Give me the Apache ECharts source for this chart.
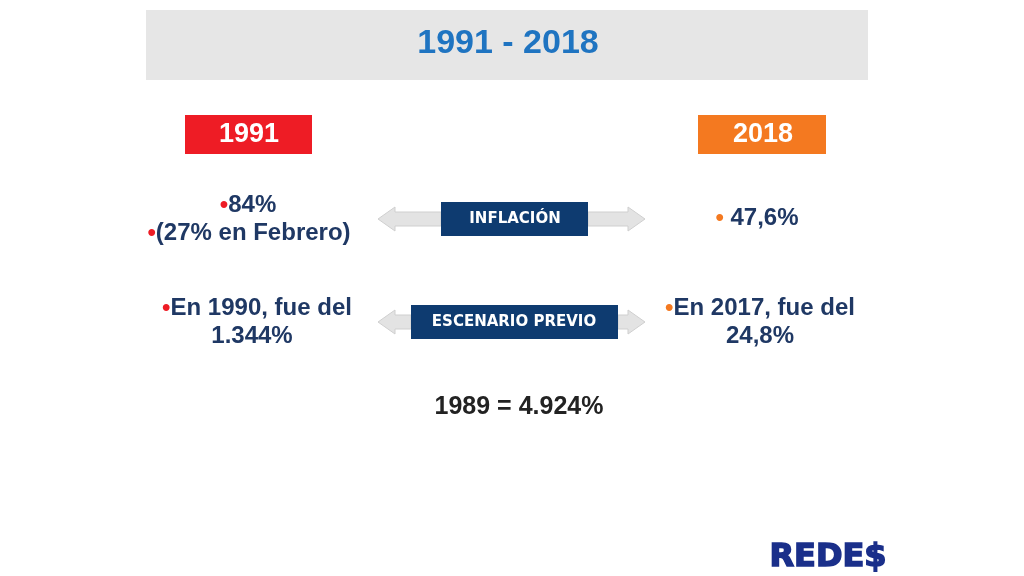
<!DOCTYPE html><html><head><meta charset="utf-8"><script src="https://cdn.jsdelivr.net/npm/echarts@6/dist/echarts.min.js"></script>
<style>html,body{margin:0;background:#fff}#c{width:1024px;height:576px}</style></head><body><div id="c"></div><script>
const title = '1991 - 2018';
const years = ['1991', '2018'];
const labels = ['INFLACIÓN', 'ESCENARIO PREVIO'];
const leftLines = [['•', '84%'], ['•', '(27% en Febrero)'], ['•', 'En 1990, fue del'], ['', '1.344%']];
const rightLines = [['•', ' 47,6%'], ['•', 'En 2017, fue del'], ['', '24,8%']];
const footer = '1989 = 4.924%';
const F = 'Liberation Sans, Arial, sans-serif';
const navy = '#1f3864';
function txt(x, y, b, t, bc) {
  return {type:'text', x, y, style:{text:'{b|'+b+'}{t|'+t+'}', align:'center', verticalAlign:'middle', font:'bold 24px '+F,
    rich:{b:{fill:bc, font:'bold 24px '+F}, t:{fill:navy, font:'bold 24px '+F}}}};
}
function arrow(x1, x2, dir, y) {
  const h = 12, s = 7, hl = 17;
  let pts;
  if (dir < 0) pts = [[x1,y],[x1+hl,y-h],[x1+hl,y-s],[x2,y-s],[x2,y+s],[x1+hl,y+s],[x1+hl,y+h]];
  else pts = [[x2,y],[x2-hl,y-h],[x2-hl,y-s],[x1,y-s],[x1,y+s],[x2-hl,y+s],[x2-hl,y+h]];
  return {type:'polygon', shape:{points:pts}, style:{fill:'#e3e3e3', stroke:'#cfcfcf', lineWidth:1}};
}
const g = [
  {type:'rect', shape:{x:146,y:10,width:722,height:70}, style:{fill:'#e6e6e6'}},
  {type:'text', x:508, y:44, style:{text:title, align:'center', verticalAlign:'middle', fill:'#1f74c1', font:'bold 34px '+F}},
  {type:'rect', shape:{x:185,y:115,width:127,height:39}, style:{fill:'#ee1c25'}},
  {type:'text', x:249, y:135, style:{text:years[0], align:'center', verticalAlign:'middle', fill:'#fff', font:'bold 27px '+F}},
  {type:'rect', shape:{x:698,y:115,width:128,height:39}, style:{fill:'#f47920'}},
  {type:'text', x:763, y:135, style:{text:years[1], align:'center', verticalAlign:'middle', fill:'#fff', font:'bold 27px '+F}},
  arrow(378,441,-1,219), arrow(588,645,1,219), arrow(378,411,-1,322), arrow(618,645,1,322),
  {type:'rect', shape:{x:441,y:202,width:147,height:34}, style:{fill:'#0e3b70'}},
  {type:'text', x:515, y:219, style:{text:labels[0], align:'center', verticalAlign:'middle', fill:'#fff', font:'bold 15px DejaVu Sans, sans-serif'}},
  {type:'rect', shape:{x:411,y:305,width:207,height:34}, style:{fill:'#0e3b70'}},
  {type:'text', x:514, y:322, style:{text:labels[1], align:'center', verticalAlign:'middle', fill:'#fff', font:'bold 15px DejaVu Sans, sans-serif'}},
  txt(248,205,leftLines[0][0],leftLines[0][1],'#ee1c25'),
  txt(249,233,leftLines[1][0],leftLines[1][1],'#ee1c25'),
  txt(257,308,leftLines[2][0],leftLines[2][1],'#ee1c25'),
  txt(252,336,leftLines[3][0],leftLines[3][1],'#ee1c25'),
  txt(757,218,rightLines[0][0],rightLines[0][1],'#f47920'),
  txt(760,308,rightLines[1][0],rightLines[1][1],'#f47920'),
  txt(760,336,rightLines[2][0],rightLines[2][1],'#f47920'),
  {type:'text', x:519, y:407, style:{text:footer, align:'center', verticalAlign:'middle', fill:'#222', font:'bold 25px '+F}},
  {type:'text', x:828, y:558, style:{text:'REDE$', align:'center', verticalAlign:'middle', fill:'#1a2f8a', font:'900 32px DejaVu Sans, sans-serif', stroke:'#1a2f8a', lineWidth:1.5}}
];
const ch = echarts.init(document.getElementById('c'));
ch.setOption({animation:false, graphic:g});
</script></body></html>
